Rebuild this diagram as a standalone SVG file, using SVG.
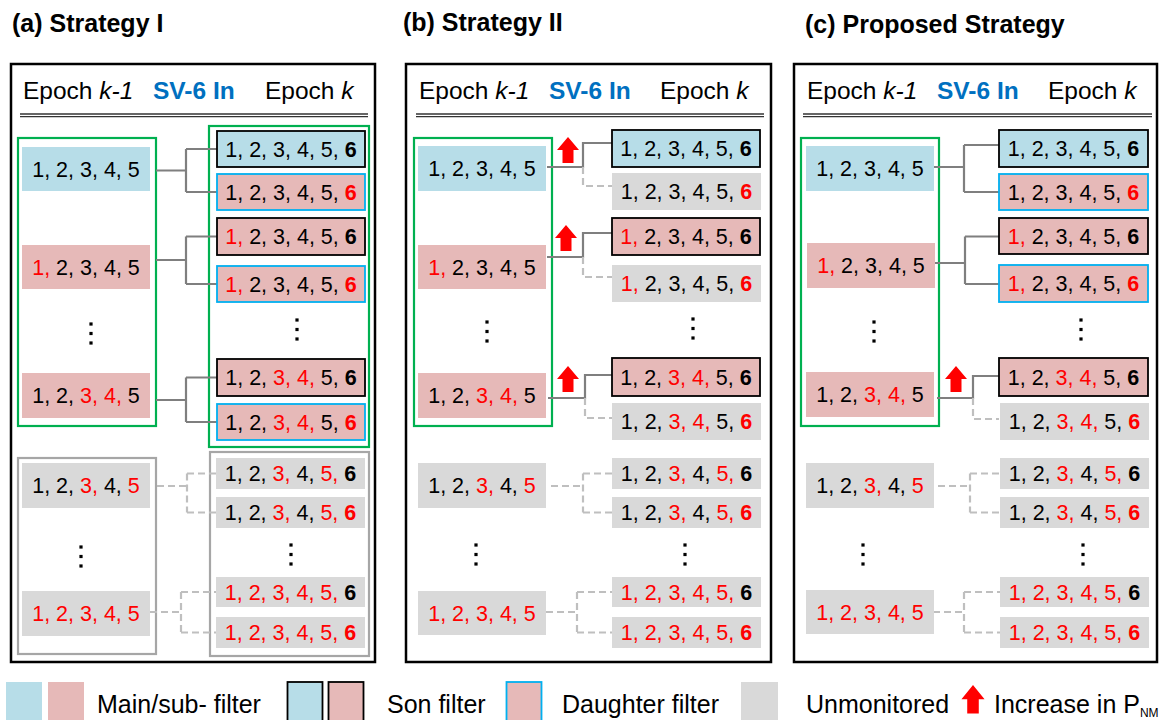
<svg xmlns="http://www.w3.org/2000/svg" xmlns:xlink="http://www.w3.org/1999/xlink" width="1161" height="720" viewBox="0 0 1161 720">
  <style>
    text { font-family: "Liberation Sans", Arial, sans-serif; }
    .title { font-size: 25px; font-weight: bold; fill: #000; }
    .hdr { font-size: 24.5px; fill: #000; }
    .sv { font-size: 24.5px; font-weight: bold; fill: #0070c0; }
    .n { font-size: 21.5px; fill: #000; text-anchor: middle; }
    .lg { font-size: 25px; fill: #000; }
    .r { fill: #ff0000; }
    .b { font-weight: bold; }
    .frame { fill: none; stroke: #000; stroke-width: 2.5; }
    .green { fill: none; stroke: #00b050; stroke-width: 2.2; }
    .grey { fill: none; stroke: #a6a6a6; stroke-width: 2.2; }
    .fb { fill: #b7dde8; }
    .fp { fill: #e6b9b8; }
    .fg { fill: #d9d9d9; }
    .kb { stroke: #000; stroke-width: 1.8; }
    .cb { stroke: #00b0f0; stroke-width: 1.8; }
    .hl { stroke: #333; stroke-width: 1.3; }
    .solid { fill: none; stroke: #7f7f7f; stroke-width: 2.2; }
    .dash { fill: none; stroke: #bfbfbf; stroke-width: 2.2; stroke-dasharray: 7 4; }
    .dot { fill: #000; }
    .arrow { fill: #ff0000; }
  </style>
  <defs>
    <polygon id="up" points="0,0 11,13 5.5,13 5.5,26 -5.5,26 -5.5,13 -11,13"/>
    <g id="vdots">
      <rect x="-1.6" y="-1.6" width="3.2" height="3.2"/>
      <rect x="-1.6" y="7.9" width="3.2" height="3.2"/>
      <rect x="-1.6" y="17.4" width="3.2" height="3.2"/>
    </g>
  </defs>

  <!-- panel titles -->
  <text class="title" x="12" y="32">(a) Strategy I</text>
  <text class="title" x="403" y="31">(b) Strategy II</text>
  <text class="title" x="805" y="33">(c) Proposed Strategy</text>

  <!-- ================= Panel (a) ================= -->
  <g id="panel-a">
    <rect class="frame" x="11" y="64" width="364" height="598"/>
    <text class="hdr" x="23" y="99">Epoch <tspan font-style="italic">k-1</tspan></text>
    <text class="sv" x="153" y="99">SV-6 In</text>
    <text class="hdr" x="265" y="99">Epoch <tspan font-style="italic">k</tspan></text>
    <line class="hl" x1="20" y1="114" x2="368" y2="114"/>
    <line class="hl" x1="20" y1="116.6" x2="368" y2="116.6"/>
    <rect class="green" x="18" y="138" width="138" height="288"/>
    <rect class="green" x="209" y="126" width="160" height="321"/>
    <rect class="grey" x="18" y="458" width="138" height="196"/>
    <rect class="grey" x="210" y="452" width="159" height="204"/>

    <g id="a-conn">
      <path class="solid" d="M156,170.5 H186 M186,149 V192 M186,149 H217 M186,192 H217"/>
      <path class="solid" d="M156,260 H186 M186,236.5 V284 M186,236.5 H217 M186,284 H217"/>
      <path class="solid" d="M156,400 H186 M186,377.5 V422 M186,377.5 H217 M186,422 H217"/>
      <path class="dash" d="M157,486 H187 M187,473.5 V512.5 M187,473.5 H216 M187,512.5 H216"/>
      <path class="dash" d="M150,612 H181 M181,592 V632.5 M181,592 H216 M181,632.5 H216"/>
    </g>

    <g id="a-L1"><rect class="fb" x="22" y="147" width="128" height="44"/><text class="n" x="86" y="176.7">1, 2, 3, 4, 5</text></g>
    <g id="a-L2"><rect class="fp" x="22" y="245" width="128" height="44"/><text class="n" x="86" y="274.7"><tspan class="r">1,</tspan> 2, 3, 4, 5</text></g>
    <g id="a-L3"><rect class="fp" x="22" y="373" width="128" height="45"/><text class="n" x="86" y="403.2">1, 2, <tspan class="r">3, 4,</tspan> 5</text></g>
    <g id="a-L4"><rect class="fg" x="22" y="463" width="128" height="45"/><text class="n" x="86" y="493.2">1, 2, <tspan class="r">3,</tspan> 4, <tspan class="r">5</tspan></text></g>
    <g id="a-L5"><rect class="fg" x="22" y="591" width="128" height="45"/><text class="n r" x="86" y="621.2">1, 2, 3, 4, 5</text></g>

    <g id="a-R1"><rect class="fb kb" x="217" y="131" width="148" height="36"/><text class="n" x="291" y="156.7">1, 2, 3, 4, 5, <tspan class="b">6</tspan></text></g>
    <g id="a-R2"><rect class="fp cb" x="217" y="174" width="148" height="36"/><text class="n" x="291" y="199.7">1, 2, 3, 4, 5, <tspan class="b r">6</tspan></text></g>
    <g id="a-R3"><rect class="fp kb" x="217" y="218" width="148" height="37"/><text class="n" x="291" y="244.2"><tspan class="r">1,</tspan> 2, 3, 4, 5, <tspan class="b">6</tspan></text></g>
    <g id="a-R4"><rect class="fp cb" x="217" y="266" width="148" height="36"/><text class="n" x="291" y="291.7"><tspan class="r">1,</tspan> 2, 3, 4, 5, <tspan class="b r">6</tspan></text></g>
    <g id="a-R5"><rect class="fp kb" x="217" y="359" width="148" height="37"/><text class="n" x="291" y="385.2">1, 2, <tspan class="r">3, 4,</tspan> 5, <tspan class="b">6</tspan></text></g>
    <g id="a-R6"><rect class="fp cb" x="217" y="404" width="148" height="36"/><text class="n" x="291" y="429.7">1, 2, <tspan class="r">3, 4,</tspan> 5, <tspan class="b r">6</tspan></text></g>
    <g id="a-R7"><rect class="fg" x="216" y="458" width="149" height="31"/><text class="n" x="290.5" y="481.2">1, 2, <tspan class="r">3,</tspan> 4, <tspan class="r">5,</tspan> <tspan class="b">6</tspan></text></g>
    <g id="a-R8"><rect class="fg" x="216" y="497" width="149" height="31"/><text class="n" x="290.5" y="520.2">1, 2, <tspan class="r">3,</tspan> 4, <tspan class="r">5,</tspan> <tspan class="b r">6</tspan></text></g>
    <g id="a-R9"><rect class="fg" x="216" y="577" width="149" height="30"/><text class="n" x="290.5" y="599.7"><tspan class="r">1, 2, 3, 4, 5,</tspan> <tspan class="b">6</tspan></text></g>
    <g id="a-R10"><rect class="fg" x="216" y="617" width="149" height="31"/><text class="n" x="290.5" y="640.2"><tspan class="r">1, 2, 3, 4, 5,</tspan> <tspan class="b r">6</tspan></text></g>

    <use class="dot" href="#vdots" x="91" y="324"/>
    <use class="dot" href="#vdots" x="297" y="320"/>
    <use class="dot" href="#vdots" x="81" y="547"/>
    <use class="dot" href="#vdots" x="291" y="545"/>
  </g>

  <!-- ================= Panel (b) ================= -->
  <g id="panel-b">
    <rect class="frame" x="406" y="64" width="365" height="598"/>
    <text class="hdr" x="419" y="99">Epoch <tspan font-style="italic">k-1</tspan></text>
    <text class="sv" x="549" y="99">SV-6 In</text>
    <text class="hdr" x="660" y="99">Epoch <tspan font-style="italic">k</tspan></text>
    <line class="hl" x1="416" y1="114" x2="764" y2="114"/>
    <line class="hl" x1="416" y1="116.6" x2="764" y2="116.6"/>
    <rect class="green" x="414" y="138" width="138" height="288"/>

    <g id="b-conn">
      <path class="solid" d="M547,167 H583 V143 H612"/>
      <path class="dash" d="M583,167 V186 H612"/>
      <path class="solid" d="M547,257 H583 V233 H612"/>
      <path class="dash" d="M583,257 V277 H612"/>
      <path class="solid" d="M548,398 H585 V375 H612"/>
      <path class="dash" d="M585,398 V418 H612"/>
      <path class="dash" d="M551,486 H583 M583,473.5 V512.5 M583,473.5 H612 M583,512.5 H612"/>
      <path class="dash" d="M546,612 H577 M577,592 V632.5 M577,592 H612 M577,632.5 H612"/>
    </g>

    <g id="b-L1"><rect class="fb" x="418" y="146" width="128" height="45"/><text class="n" x="482" y="176.2">1, 2, 3, 4, 5</text></g>
    <g id="b-L2"><rect class="fp" x="418" y="245" width="128" height="44"/><text class="n" x="482" y="274.7"><tspan class="r">1,</tspan> 2, 3, 4, 5</text></g>
    <g id="b-L3"><rect class="fp" x="418" y="373" width="128" height="45"/><text class="n" x="482" y="403.2">1, 2, <tspan class="r">3, 4,</tspan> 5</text></g>
    <g id="b-L4"><rect class="fg" x="418" y="463" width="128" height="45"/><text class="n" x="482" y="493.2">1, 2, <tspan class="r">3,</tspan> 4, <tspan class="r">5</tspan></text></g>
    <g id="b-L5"><rect class="fg" x="418" y="591" width="128" height="44"/><text class="n r" x="482" y="620.7">1, 2, 3, 4, 5</text></g>

    <g id="b-R1"><rect class="fb kb" x="612" y="130" width="148" height="37"/><text class="n" x="686" y="156.2">1, 2, 3, 4, 5, <tspan class="b">6</tspan></text></g>
    <g id="b-R2"><rect class="fg" x="612" y="173" width="149" height="37"/><text class="n" x="686.5" y="199.2">1, 2, 3, 4, 5, <tspan class="b r">6</tspan></text></g>
    <g id="b-R3"><rect class="fp kb" x="612" y="218" width="148" height="37"/><text class="n" x="686" y="244.2"><tspan class="r">1,</tspan> 2, 3, 4, 5, <tspan class="b">6</tspan></text></g>
    <g id="b-R4"><rect class="fg" x="612" y="265" width="149" height="37"/><text class="n" x="686.5" y="291.2"><tspan class="r">1,</tspan> 2, 3, 4, 5, <tspan class="b r">6</tspan></text></g>
    <g id="b-R5"><rect class="fp kb" x="612" y="358" width="148" height="38"/><text class="n" x="686" y="384.7">1, 2, <tspan class="r">3, 4,</tspan> 5, <tspan class="b">6</tspan></text></g>
    <g id="b-R6"><rect class="fg" x="612" y="403" width="149" height="37"/><text class="n" x="686.5" y="429.2">1, 2, <tspan class="r">3, 4,</tspan> 5, <tspan class="b r">6</tspan></text></g>
    <g id="b-R7"><rect class="fg" x="612" y="458" width="149" height="31"/><text class="n" x="686.5" y="481.2">1, 2, <tspan class="r">3,</tspan> 4, <tspan class="r">5,</tspan> <tspan class="b">6</tspan></text></g>
    <g id="b-R8"><rect class="fg" x="612" y="497" width="149" height="31"/><text class="n" x="686.5" y="520.2">1, 2, <tspan class="r">3,</tspan> 4, <tspan class="r">5,</tspan> <tspan class="b r">6</tspan></text></g>
    <g id="b-R9"><rect class="fg" x="612" y="577" width="149" height="30"/><text class="n" x="686.5" y="599.7"><tspan class="r">1, 2, 3, 4, 5,</tspan> <tspan class="b">6</tspan></text></g>
    <g id="b-R10"><rect class="fg" x="612" y="617" width="149" height="31"/><text class="n" x="686.5" y="640.2"><tspan class="r">1, 2, 3, 4, 5,</tspan> <tspan class="b r">6</tspan></text></g>

    <use class="arrow" href="#up" x="568" y="137"/>
    <use class="arrow" href="#up" x="566" y="225"/>
    <use class="arrow" href="#up" x="568" y="366"/>

    <use class="dot" href="#vdots" x="487" y="322"/>
    <use class="dot" href="#vdots" x="693" y="319"/>
    <use class="dot" href="#vdots" x="476" y="545"/>
    <use class="dot" href="#vdots" x="685" y="545"/>
  </g>

  <!-- ================= Panel (c) ================= -->
  <g id="panel-c">
    <rect class="frame" x="794" y="64" width="363" height="598"/>
    <text class="hdr" x="807" y="99">Epoch <tspan font-style="italic">k-1</tspan></text>
    <text class="sv" x="937" y="99">SV-6 In</text>
    <text class="hdr" x="1048" y="99">Epoch <tspan font-style="italic">k</tspan></text>
    <line class="hl" x1="803" y1="114" x2="1152" y2="114"/>
    <line class="hl" x1="803" y1="116.6" x2="1152" y2="116.6"/>
    <rect class="green" x="801" y="138" width="138" height="288"/>

    <g id="c-conn">
      <path class="solid" d="M933,167 H964 M964,145 V192 M964,145 H999 M964,192 H999"/>
      <path class="solid" d="M934,263 H965 M965,236.5 V284 M965,236.5 H999 M965,284 H999"/>
      <path class="solid" d="M937,398 H973 V376 H999"/>
      <path class="dash" d="M973,398 V419 H999"/>
      <path class="dash" d="M938,486 H970 M970,473.5 V512.5 M970,473.5 H1000 M970,512.5 H1000"/>
      <path class="dash" d="M933,612 H964 M964,592 V632.5 M964,592 H1000 M964,632.5 H1000"/>
    </g>

    <g id="c-L1"><rect class="fb" x="806" y="146" width="128" height="45"/><text class="n" x="870" y="176.2">1, 2, 3, 4, 5</text></g>
    <g id="c-L2"><rect class="fp" x="807" y="243" width="128" height="45"/><text class="n" x="871" y="273.2"><tspan class="r">1,</tspan> 2, 3, 4, 5</text></g>
    <g id="c-L3"><rect class="fp" x="806" y="372" width="128" height="45"/><text class="n" x="870" y="402.2">1, 2, <tspan class="r">3, 4,</tspan> 5</text></g>
    <g id="c-L4"><rect class="fg" x="806" y="463" width="128" height="45"/><text class="n" x="870" y="493.2">1, 2, <tspan class="r">3,</tspan> 4, <tspan class="r">5</tspan></text></g>
    <g id="c-L5"><rect class="fg" x="806" y="590" width="128" height="44"/><text class="n r" x="870" y="619.7">1, 2, 3, 4, 5</text></g>

    <g id="c-R1"><rect class="fb kb" x="999" y="130" width="149" height="37"/><text class="n" x="1073.5" y="156.2">1, 2, 3, 4, 5, <tspan class="b">6</tspan></text></g>
    <g id="c-R2"><rect class="fp cb" x="999" y="174" width="149" height="36"/><text class="n" x="1073.5" y="199.7">1, 2, 3, 4, 5, <tspan class="b r">6</tspan></text></g>
    <g id="c-R3"><rect class="fp kb" x="999" y="218" width="149" height="36"/><text class="n" x="1073.5" y="243.7"><tspan class="r">1,</tspan> 2, 3, 4, 5, <tspan class="b">6</tspan></text></g>
    <g id="c-R4"><rect class="fp cb" x="999" y="265" width="149" height="37"/><text class="n" x="1073.5" y="291.2"><tspan class="r">1,</tspan> 2, 3, 4, 5, <tspan class="b r">6</tspan></text></g>
    <g id="c-R5"><rect class="fp kb" x="999" y="358" width="149" height="38"/><text class="n" x="1073.5" y="384.7">1, 2, <tspan class="r">3, 4,</tspan> 5, <tspan class="b">6</tspan></text></g>
    <g id="c-R6"><rect class="fg" x="1000" y="403" width="149" height="37"/><text class="n" x="1074.5" y="429.2">1, 2, <tspan class="r">3, 4,</tspan> 5, <tspan class="b r">6</tspan></text></g>
    <g id="c-R7"><rect class="fg" x="1000" y="458" width="149" height="31"/><text class="n" x="1074.5" y="481.2">1, 2, <tspan class="r">3,</tspan> 4, <tspan class="r">5,</tspan> <tspan class="b">6</tspan></text></g>
    <g id="c-R8"><rect class="fg" x="1000" y="497" width="149" height="31"/><text class="n" x="1074.5" y="520.2">1, 2, <tspan class="r">3,</tspan> 4, <tspan class="r">5,</tspan> <tspan class="b r">6</tspan></text></g>
    <g id="c-R9"><rect class="fg" x="1000" y="577" width="149" height="30"/><text class="n" x="1074.5" y="599.7"><tspan class="r">1, 2, 3, 4, 5,</tspan> <tspan class="b">6</tspan></text></g>
    <g id="c-R10"><rect class="fg" x="1000" y="617" width="149" height="31"/><text class="n" x="1074.5" y="640.2"><tspan class="r">1, 2, 3, 4, 5,</tspan> <tspan class="b r">6</tspan></text></g>

    <use class="arrow" href="#up" x="956" y="366"/>

    <use class="dot" href="#vdots" x="874" y="322"/>
    <use class="dot" href="#vdots" x="1081" y="320"/>
    <use class="dot" href="#vdots" x="863" y="545"/>
    <use class="dot" href="#vdots" x="1083" y="545"/>
  </g>

  <!-- ================= Legend ================= -->
  <g id="legend">
    <rect class="fb" x="6" y="682" width="36" height="40"/>
    <rect class="fp" x="48" y="682" width="36" height="40"/>
    <text class="lg" x="97" y="713">Main/sub- filter</text>
    <rect class="fb kb" x="287.5" y="682" width="35" height="40"/>
    <rect class="fp kb" x="328.5" y="682" width="35" height="40"/>
    <text class="lg" x="387" y="713">Son filter</text>
    <rect class="fp cb" x="506.5" y="682" width="35" height="40"/>
    <text class="lg" x="562" y="713">Daughter filter</text>
    <rect class="fg" x="741" y="682" width="37" height="40"/>
    <text class="lg" x="806" y="713">Unmonitored</text>
    <use class="arrow" href="#up" transform="translate(973,685) scale(1.05,1.1)"/>
    <text class="lg" x="994" y="713">Increase in P<tspan font-size="12px" dy="4">NM</tspan></text>
  </g>
</svg>
